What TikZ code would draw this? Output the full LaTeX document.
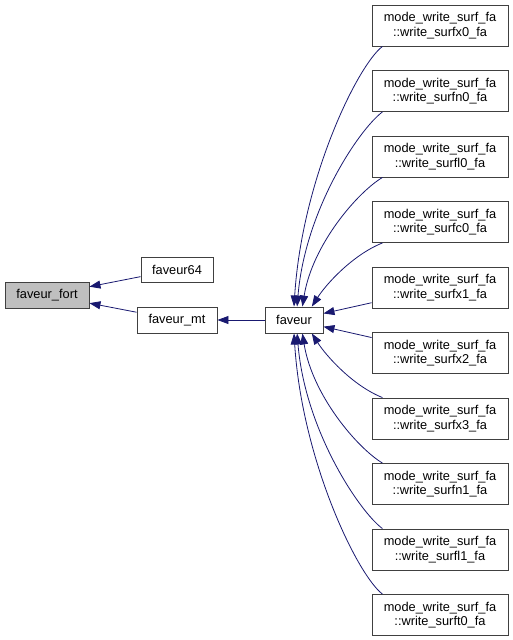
\documentclass[tikz,border=0pt]{standalone}
\usepackage{fontspec}
\setmainfont{Liberation Sans}
\usepackage{tikz}
\usetikzlibrary{positioning,calc}
\usetikzlibrary{arrows.meta}
\definecolor{CallBlue}{RGB}{25,25,112}
\definecolor{RootGray}{RGB}{191,191,191}
\definecolor{BoxLine}{RGB}{64,64,64}
\tikzset{
  fn/.style={draw=BoxLine,fill=white,line width=0.9pt,inner sep=0pt,
    font=\fontsize{12.8}{14.6}\selectfont,minimum height=26pt},
  member/.style={fn,minimum width=136pt,minimum height=41pt,align=center},
  call/.style={draw=CallBlue,line width=0.8pt,-{Triangle[length=11pt,width=8pt]}},
}

\begin{document}
\begin{tikzpicture}[x=1pt,y=-1pt]
\useasboundingbox (0,0) rectangle (513,640);
\node[fn,fill=RootGray,minimum width=84pt] (fort) at (47,295) {faveur\_fort};
\node[fn,minimum width=72pt,minimum height=25pt] (f64) at (177,269.5) {faveur64};
\node[fn,minimum width=80pt] (mt) at (177,320) {faveur\_mt};
\node[fn,minimum width=58pt] (fav) at (294,320) {faveur};
\node[member] (w0) at (440,25.5) {mode\_write\_surf\_fa\\::write\_surfx0\_fa};
\node[member] (w1) at (440,91) {mode\_write\_surf\_fa\\::write\_surfn0\_fa};
\node[member] (w2) at (440,156.5) {mode\_write\_surf\_fa\\::write\_surfl0\_fa};
\node[member] (w3) at (440,222) {mode\_write\_surf\_fa\\::write\_surfc0\_fa};
\node[member] (w4) at (440,287.5) {mode\_write\_surf\_fa\\::write\_surfx1\_fa};
\node[member] (w5) at (440,353) {mode\_write\_surf\_fa\\::write\_surfx2\_fa};
\node[member] (w6) at (440,418.5) {mode\_write\_surf\_fa\\::write\_surfx3\_fa};
\node[member] (w7) at (440,484) {mode\_write\_surf\_fa\\::write\_surfn1\_fa};
\node[member] (w8) at (440,549.5) {mode\_write\_surf\_fa\\::write\_surfl1\_fa};
\node[member] (w9) at (440,615) {mode\_write\_surf\_fa\\::write\_surft0\_fa};
% callers of faveur_fort
\draw[call] (f64) -- (fort);
\draw[call] (mt) -- (fort);
\draw[call] (fav) -- (mt);
% callers of faveur
\draw[call] (w0.200) .. controls +(-25,19) and +(8,-127) .. (fav.90);
\draw[call] (w1.200) .. controls +(-23,17) and +(8,-97) .. (fav.77);
\draw[call] (w2.200) .. controls +(-25,15) and +(10,-62) .. (fav.58);
\draw[call] (w3.200) .. controls +(-30,12) and +(14,-22) .. (fav.37);
\draw[call] (w4) -- (fav);
\draw[call] (w5) -- (fav);
\draw[call] (w6.160) .. controls +(-30,-12) and +(14,22) .. (fav.-37);
\draw[call] (w7.160) .. controls +(-25,-15) and +(10,62) .. (fav.-58);
\draw[call] (w8.160) .. controls +(-23,-17) and +(8,97) .. (fav.-77);
\draw[call] (w9.160) .. controls +(-25,-19) and +(8,127) .. (fav.-90);
\end{tikzpicture}
\end{document}
